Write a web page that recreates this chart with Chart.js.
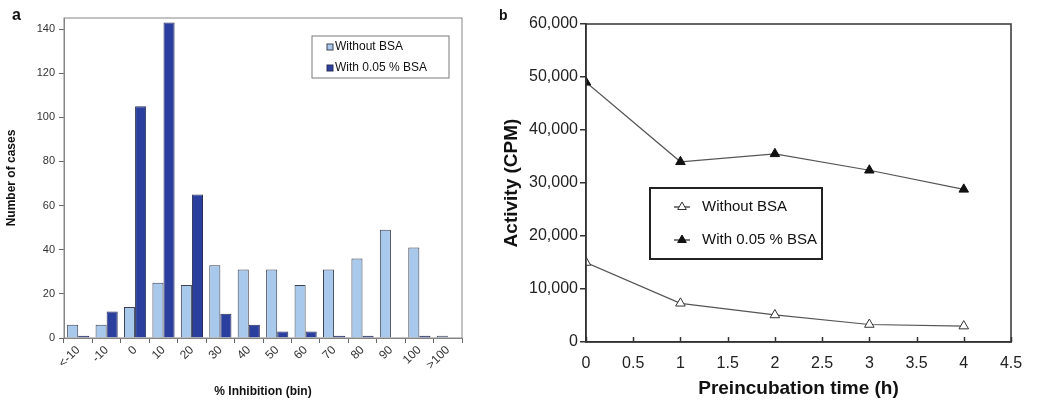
<!DOCTYPE html>
<html>
<head>
<meta charset="utf-8">
<script src="https://cdn.jsdelivr.net/npm/chart.js@4.4.0/dist/chart.umd.min.js"></script>
<style>
  body { margin: 0; background: #fff; font-family: "Liberation Sans", Arial, sans-serif; }
  .panel { position: absolute; top: 0; height: 400px; }
  .tag { position: absolute; font-weight: bold; color: #111; }
</style>
</head>
<body>
<div class="panel" style="left:0;width:490px"><canvas id="hist" width="490" height="400"></canvas></div>
<div class="panel" style="left:500px;width:564px"><canvas id="decay" width="564" height="400"></canvas></div>
<div class="tag" style="left:12px;top:6px;font-size:16px">a</div>
<div class="tag" style="left:499px;top:7px;font-size:14px">b</div>
<script>
// panel a: histogram of % inhibition
const bins = ['<-10', '-10', '0', '10', '20', '30', '40', '50', '60', '70', '80', '90', '100', '>100'];
const casesWithout = [6, 6, 14, 25, 24, 33, 31, 31, 24, 31, 36, 49, 41, 1];
const casesWith = [1, 12, 105, 143, 65, 11, 6, 3, 3, 1, 1, 0, 1, 0];
const caseTicks = [0, 20, 40, 60, 80, 100, 120, 140];

// panel b: activity vs preincubation time
const hours = [0, 1, 2, 3, 4];
const cpmWithout = [15000, 7300, 5100, 3300, 3000];
const cpmWith = [49000, 34000, 35500, 32400, 28800];

const FONT = "'Liberation Sans', Arial, sans-serif";

// box round the plot area
const frame = {
  id: 'frame',
  afterDatasetsDraw(chart, args, o) {
    const a = chart.chartArea, ctx = chart.ctx;
    ctx.save();
    ctx.strokeStyle = o.color;
    ctx.lineWidth = o.width;
    ctx.strokeRect(a.left, a.top, a.right - a.left, a.bottom - a.top);
    ctx.restore();
  }
};

// legend drawn inside the plot area
const boxLegend = {
  id: 'boxLegend',
  afterDraw(chart, args, o) {
    const a = chart.chartArea, ctx = chart.ctx;
    const x = a.left + o.x, y = a.top + o.y;
    ctx.save();
    ctx.fillStyle = '#fff';
    ctx.fillRect(x, y, o.w, o.h);
    ctx.strokeStyle = o.border;
    ctx.lineWidth = o.borderWidth;
    ctx.strokeRect(x, y, o.w, o.h);
    ctx.font = o.font;
    ctx.textBaseline = 'middle';
    chart.data.datasets.forEach((ds, i) => {
      const cy = y + o.rows[i];
      if (o.kind === 'box') {
        ctx.fillStyle = ds.backgroundColor;
        ctx.strokeStyle = ds.borderColor;
        ctx.lineWidth = 1;
        ctx.fillRect(x + o.markX, cy - 3, 6, 6);
        ctx.strokeRect(x + o.markX, cy - 3, 6, 6);
      } else {
        ctx.strokeStyle = '#333';
        ctx.lineWidth = 1.3;
        ctx.beginPath();
        ctx.moveTo(x + o.markX, cy);
        ctx.lineTo(x + o.markX + 16, cy);
        ctx.stroke();
        ctx.fillStyle = ds.pointBackgroundColor;
        ctx.strokeStyle = ds.pointBorderColor;
        ctx.lineWidth = 1;
        Chart.helpers.drawPoint(ctx, { pointStyle: 'triangle', radius: 5, borderWidth: 1 }, x + o.markX + 8, cy);
      }
      ctx.fillStyle = '#111';
      ctx.fillText(ds.label, x + o.textX, cy);
    });
    ctx.restore();
  }
};

// tick marks pointing into the plot on the x axis
const innerTicks = {
  id: 'innerTicks',
  afterDatasetsDraw(chart) {
    const s = chart.scales.x, ctx = chart.ctx;
    ctx.save();
    ctx.strokeStyle = '#333';
    ctx.lineWidth = 1.5;
    s.ticks.forEach((t, i) => {
      const px = Math.round(s.getPixelForTick(i)) + 0.5;
      ctx.beginPath();
      ctx.moveTo(px, s.top);
      ctx.lineTo(px, s.top - 5);
      ctx.stroke();
    });
    ctx.restore();
  }
};

new Chart(document.getElementById('hist'), {
  type: 'bar',
  data: {
    labels: bins,
    datasets: [
      { label: 'Without BSA', data: casesWithout, backgroundColor: '#a9c9ec', borderColor: '#3d4150', borderWidth: 1 },
      { label: 'With 0.05 % BSA', data: casesWith, backgroundColor: '#2b3f9e', borderColor: '#2a2f55', borderWidth: 1 }
    ]
  },
  options: {
    responsive: false,
    animation: false,
    layout: { padding: { top: 18, right: 28, left: 0, bottom: 0 } },
    datasets: { bar: { categoryPercentage: 0.78, barPercentage: 1.0 } },
    plugins: {
      legend: { display: false },
      tooltip: { enabled: false },
      frame: { color: '#858585', width: 1 },
      boxLegend: {
        kind: 'box', x: 248, y: 18, w: 137, h: 42, rows: [11, 32], markX: 15, textX: 23,
        font: '12px ' + FONT, border: '#7a7a7a', borderWidth: 1
      }
    },
    scales: {
      x: {
        afterFit: s => { s.height = 62; },
        grid: { drawOnChartArea: false, tickLength: 5, color: '#666', offset: true },
        border: { color: '#858585' },
        ticks: { minRotation: 45, maxRotation: 45, color: '#333', font: { family: FONT, size: 12 }, padding: 0 },
        title: { display: true, text: '% Inhibition (bin)', color: '#111', font: { family: FONT, size: 12, weight: 'bold' }, padding: { top: 0, bottom: 1 } }
      },
      y: {
        min: 0, max: 145,
        afterFit: s => { s.width = 64; },
        afterBuildTicks: s => { s.ticks = caseTicks.map(v => ({ value: v })); },
        grid: { drawOnChartArea: false, tickLength: 5, color: '#666' },
        border: { color: '#858585' },
        ticks: { color: '#333', font: { family: FONT, size: 11 }, padding: 4 },
        title: { display: true, text: 'Number of cases', color: '#111', font: { family: FONT, size: 12, weight: 'bold' }, padding: { top: 4, bottom: 0 } }
      }
    }
  },
  plugins: [frame, boxLegend]
});

new Chart(document.getElementById('decay'), {
  type: 'line',
  data: {
    datasets: [
      {
        label: 'Without BSA',
        data: hours.map((h, i) => ({ x: h, y: cpmWithout[i] })),
        borderColor: '#555', borderWidth: 1.2,
        pointStyle: 'triangle', pointRadius: 5.5, pointBorderWidth: 1,
        pointBackgroundColor: '#fff', pointBorderColor: '#333'
      },
      {
        label: 'With 0.05 % BSA',
        data: hours.map((h, i) => ({ x: h, y: cpmWith[i] })),
        borderColor: '#555', borderWidth: 1.2,
        pointStyle: 'triangle', pointRadius: 5.5, pointBorderWidth: 1,
        pointBackgroundColor: '#111', pointBorderColor: '#111'
      }
    ]
  },
  options: {
    responsive: false,
    animation: false,
    layout: { padding: { top: 24, right: 53, left: 0, bottom: 0 } },
    plugins: {
      legend: { display: false },
      tooltip: { enabled: false },
      frame: { color: '#333', width: 1.5 },
      boxLegend: {
        kind: 'line', x: 64, y: 164, w: 172, h: 71, rows: [19, 52], markX: 24, textX: 52,
        font: '15px ' + FONT, border: '#222', borderWidth: 2
      }
    },
    scales: {
      x: {
        type: 'linear', min: 0, max: 4.5,
        afterFit: s => { s.height = 58; },
        grid: { display: false },
        border: { color: '#333', width: 1.5 },
        ticks: { stepSize: 0.5, color: '#222', font: { family: FONT, size: 16 }, padding: 4, callback: v => String(v) },
        title: { display: true, text: 'Preincubation time (h)', color: '#111', font: { family: FONT, size: 19, weight: 'bold' }, padding: { top: 0, bottom: 0 } }
      },
      y: {
        min: 0, max: 60000,
        afterFit: s => { s.width = 86; },
        grid: { drawOnChartArea: false, tickLength: 6, color: '#333', lineWidth: 1.5 },
        border: { color: '#333', width: 1.5 },
        ticks: { stepSize: 10000, color: '#222', font: { family: FONT, size: 16 }, padding: 2 },
        title: { display: true, text: 'Activity (CPM)', color: '#111', font: { family: FONT, size: 19, weight: 'bold' }, padding: { top: 0, bottom: 0 } }
      }
    }
  },
  plugins: [frame, innerTicks, boxLegend]
});
</script>
</body>
</html>
